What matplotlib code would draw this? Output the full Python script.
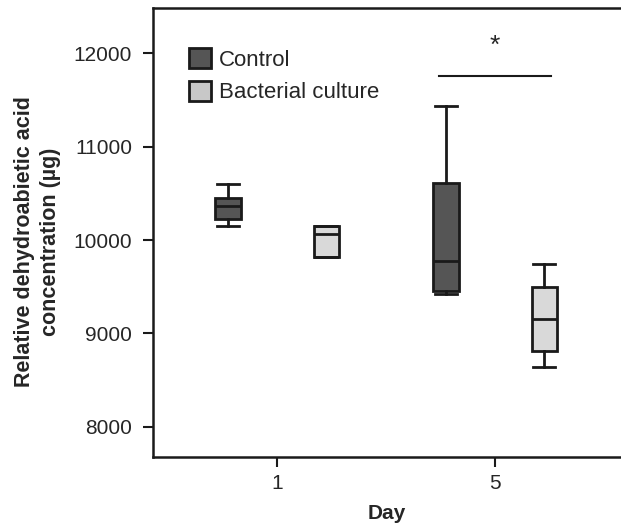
import matplotlib.pyplot as plt
from matplotlib.patches import Patch

plt.rcParams['font.family'] = ['Liberation Sans', 'DejaVu Sans']

# box statistics: whislo, q1, median, q3, whishi
days = ["1", "5"]
control_stats = [
    [10153, 10225, 10364, 10447, 10597],
    [9418, 9457, 9775, 10607, 11436],
]
culture_stats = [
    [9821, 9821, 10068, 10146, 10146],
    [8643, 8811, 9154, 9493, 9740],
]
sig_y = 11757

dark = "#555555"
light = "#d9d9d9"
ink = "#1a1a1a"
txt = "#262626"


def to_bxp(stats):
    return [dict(whislo=s[0], q1=s[1], med=s[2], q3=s[3], whishi=s[4], fliers=[]) for s in stats]


fig = plt.figure(figsize=(6.21, 5.23), dpi=100)
ax = fig.add_axes([0.2464, 0.1262, 0.7536, 0.8585])

pos = list(range(len(days)))
off = 0.225
w = 0.115
common = dict(widths=w, patch_artist=True, showfliers=False,
              whiskerprops=dict(color=ink, lw=2),
              capprops=dict(color=ink, lw=2),
              medianprops=dict(color=ink, lw=2))

b1 = ax.bxp(to_bxp(control_stats), positions=[p - off for p in pos], **common)
b2 = ax.bxp(to_bxp(culture_stats), positions=[p + off for p in pos], **common)
for b, c in [(b1, dark), (b2, light)]:
    for box in b["boxes"]:
        box.set_facecolor(c)
        box.set_edgecolor(ink)
        box.set_linewidth(2)
    for cap in b["caps"]:
        x = cap.get_xdata()
        mid = (x[0] + x[1]) / 2
        cap.set_xdata([mid - 0.05, mid + 0.05])

# significance bar on day 5
ax.plot([1 - off - 0.03, 1 + off + 0.03], [sig_y, sig_y], color=ink, lw=1.5)
ax.text(1, sig_y + 320, "*", ha="center", va="center", fontsize=19, color=txt)

ax.set_xlim(-0.569, 1.578)
ax.set_ylim(7675, 12486)
ax.set_xticks(pos)
ax.set_xticklabels(days)
ax.set_yticks([8000, 9000, 10000, 11000, 12000])
ax.tick_params(labelsize=15, width=1.5, length=7, color=ink, labelcolor=txt)
ax.tick_params(axis="y", pad=8)
ax.tick_params(axis="x", pad=5)
for sp in ["left", "bottom", "top"]:
    ax.spines[sp].set_linewidth(1.8)
    ax.spines[sp].set_color(ink)
ax.spines["right"].set_visible(False)

ax.set_xlabel("Day", fontsize=15, fontweight="bold", labelpad=8, color=txt)
ax.set_ylabel("Relative dehydroabietic acid\nconcentration (µg)", fontsize=15.5,
              fontweight="bold", linespacing=1.3, color=txt)
ax.yaxis.set_label_coords(-0.196, 0.479)

handles = [Patch(facecolor=dark, edgecolor=ink, lw=2, label="Control"),
           Patch(facecolor="#c8c8c8", edgecolor=ink, lw=2, label="Bacterial culture")]
leg = ax.legend(handles=handles, loc="upper left", bbox_to_anchor=(0.058, 0.93), frameon=False,
                fontsize=16, handlelength=1.0, handleheight=1.0, handletextpad=0.35,
                labelspacing=0.45, borderaxespad=0)
for t in leg.get_texts():
    t.set_color(txt)

fig.savefig("out.png", dpi=100)
